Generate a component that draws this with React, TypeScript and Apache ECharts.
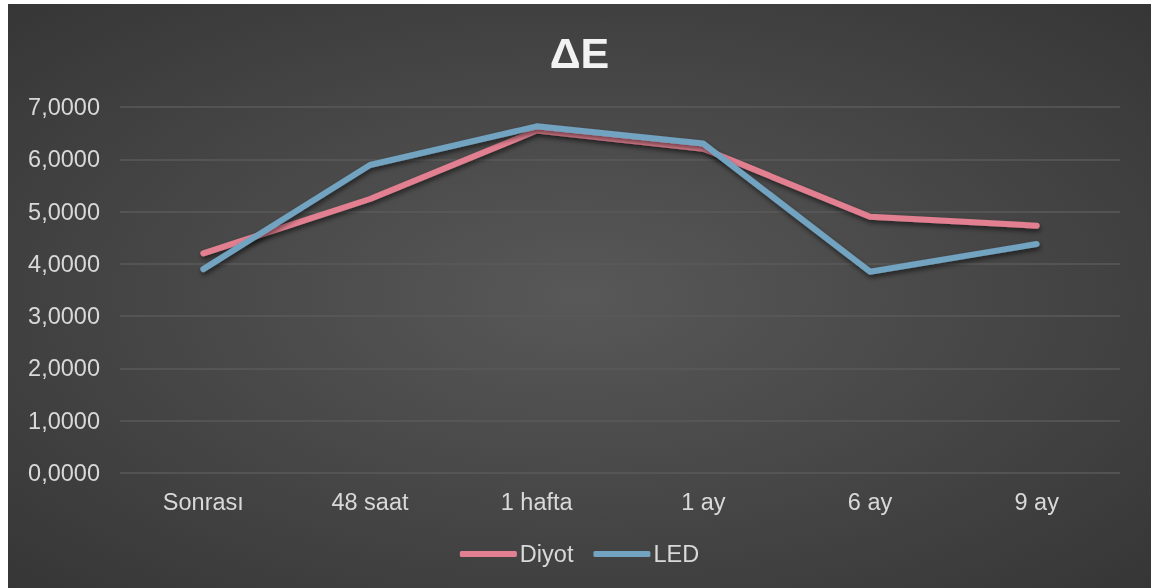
import React, { useEffect, useRef } from "react";
import * as echarts from "echarts";

const categories = ["Sonrası", "48 saat", "1 hafta", "1 ay", "6 ay", "9 ay"];
const diyotValues = [4.2, 5.24, 6.55, 6.2, 4.9, 4.73];
const ledValues = [3.9, 5.89, 6.63, 6.3, 3.85, 4.38];
const yTicks = { min: 0, max: 7, interval: 1 };

export default function App() {
  const ref = useRef<HTMLDivElement>(null);
  useEffect(() => {
    if (!ref.current) return;
    const chart = echarts.init(ref.current, undefined, { renderer: "svg" });
    const W = 1143;
    const H = 584;
    const font = "'Liberation Sans', Arial, sans-serif";
    const lineShadow = {
      shadowBlur: 5,
      shadowColor: "rgba(0,0,0,0.55)",
      shadowOffsetX: 1,
      shadowOffsetY: 3,
    };
    chart.setOption({
      animation: false,
      graphic: [
        {
          type: "rect",
          left: 0,
          top: 0,
          z: -100,
          silent: true,
          shape: { width: W, height: H },
          style: {
            fill: new echarts.graphic.RadialGradient(0.5, 0.5, 1.1, [
              { offset: 0, color: "#585858" },
              { offset: 1, color: "#232323" },
            ]),
          },
        },
      ],
      title: {
        text: "ΔE",
        left: "center",
        top: 22,
        textStyle: {
          color: "#f2f2f2",
          fontSize: 43,
          fontWeight: "bold",
          fontFamily: font,
        },
      },
      legend: {
        data: ["Diyot", "LED"],
        left: "center",
        top: 533,
        icon: "roundRect",
        itemWidth: 57,
        itemHeight: 6,
        itemGap: 20,
        textStyle: { color: "#d9d9d9", fontSize: 23.5, fontFamily: font, padding: [0, 0, 0, -2] },
      },
      grid: { left: 112, right: 31, top: 103, bottom: 115, containLabel: false },
      xAxis: {
        type: "category",
        data: categories,
        boundaryGap: true,
        axisLine: { show: false },
        axisTick: { show: false },
        axisLabel: { color: "#d9d9d9", fontSize: 23.5, fontFamily: font, margin: 17 },
      },
      yAxis: {
        type: "value",
        min: yTicks.min,
        max: yTicks.max,
        interval: yTicks.interval,
        axisLine: { show: false },
        axisTick: { show: false },
        axisLabel: {
          color: "#d9d9d9",
          fontSize: 23.5,
          fontFamily: font,
          margin: 20,
          formatter: (v: number) => v.toFixed(4).replace(".", ","),
        },
        splitLine: { lineStyle: { color: "#5a5a5a", width: 1.5 } },
      },
      series: [
        {
          name: "Diyot",
          type: "line",
          data: diyotValues,
          symbol: "none",
          itemStyle: { color: "#e28091" },
          lineStyle: { color: "#e28091", width: 6, cap: "round", join: "round", ...lineShadow },
        },
        {
          name: "LED",
          type: "line",
          data: ledValues,
          symbol: "none",
          itemStyle: { color: "#72a3c0" },
          lineStyle: { color: "#72a3c0", width: 6, cap: "round", join: "round", ...lineShadow },
        },
      ],
    });
    return () => chart.dispose();
  }, []);
  return (
    <div
      ref={ref}
      style={{ position: "fixed", left: 8, top: 4, width: 1143, height: 584 }}
    />
  );
}
